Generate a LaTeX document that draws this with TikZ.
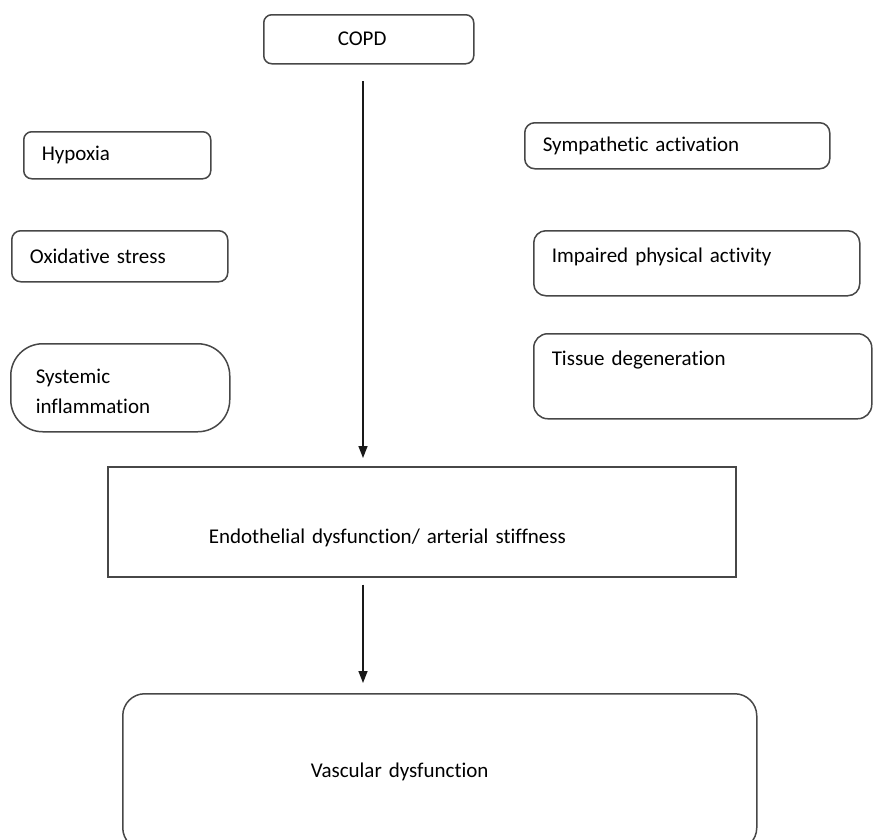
\documentclass[tikz,border=0pt]{standalone}
\usepackage{fontspec}
\setmainfont{Carlito}[Ligatures=NoCommon, WordSpace=0.8]
\usetikzlibrary{arrows.meta}

\begin{document}
\begin{tikzpicture}[x=1pt, y=-1pt, box/.style={draw=black!72, line width=1.5pt, rounded corners=#1, anchor=north west, align=left, inner ysep=0pt, font=\fontsize{21}{30}\selectfont}, arr/.style={-{Triangle[length=12pt,width=9pt]}, line width=1.5pt, black!90}]
  \useasboundingbox (0,0) rectangle (873,839);
  \node[box=8pt, inner xsep=74pt, text width=62pt, minimum height=49pt] (copd) at (263,14) {COPD};
  \node[box=8pt, inner xsep=18pt, text width=151pt, minimum height=47pt] (hypoxia) at (23,131) {Hypoxia};
  \node[box=9pt, inner xsep=18pt, text width=180pt, minimum height=51pt] (oxid) at (11,230) {Oxidative stress};
  \node[box=32pt, inner xsep=25pt, text width=169pt, minimum height=88pt, text height=21pt] (infl) at (10,343) {Systemic\\inflammation};
  \node[box=10pt, inner xsep=18pt, text width=269pt, minimum height=46pt] (symp) at (524,122) {Sympathetic activation};
  \node[box=12pt, inner xsep=18pt, text width=290pt, minimum height=65pt, text height=14pt, text depth=16pt] (activity) at (533,230) {Impaired physical activity};
  \node[box=14pt, inner xsep=18pt, text width=302pt, minimum height=85pt, text height=14pt, text depth=36pt] (tissue) at (533,333) {Tissue degeneration};
  \node[box=0pt, inner xsep=101pt, text width=426pt, minimum height=110pt, text height=48pt, text depth=5pt] (endo) at (107,466) {Endothelial dysfunction/ arterial stiffness};
  \node[box=22pt, inner xsep=188pt, text width=258pt, minimum height=156pt, text height=20pt, text depth=9pt] (vasc) at (122,693) {Vascular dysfunction};
  \coordinate (trunk) at (363,81);
  \draw[arr, shorten >=8pt] (trunk) -- (trunk |- endo.north);
  \draw[arr, shorten <=7pt, shorten >=10pt] (endo.south -| trunk) -- (vasc.north -| trunk);
\end{tikzpicture}
\end{document}
